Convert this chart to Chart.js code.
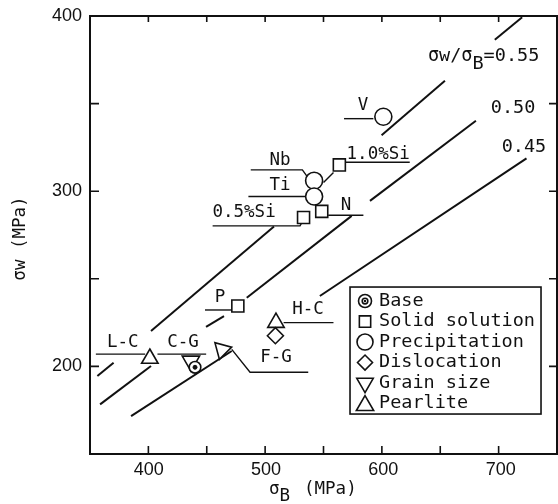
<!DOCTYPE html>
<html><head><meta charset="utf-8">
<script src="https://cdn.jsdelivr.net/npm/chart.js@4.4.1/dist/chart.umd.min.js"></script>
<style>html,body{margin:0;padding:0;background:#fff}</style>
</head><body>
<div style="width:558px;height:504px"><canvas id="c" width="558" height="504"></canvas></div>
<script>
// ---- axis ranges & tick labels ----
const xRange = [350, 748];
const yRange = [150, 400];
const xTickLabels = [400, 500, 600, 700];
const yTickLabels = [200, 300, 400];

// ---- data points (σB MPa, σw MPa) ----
const basePts = [{x: 439.5, y: 199.5}];
const solidPts = [{x: 476, y: 234.5}, {x: 532, y: 285}, {x: 547.5, y: 288.5}, {x: 562.5, y: 315}];
const precipPts = [{x: 600, y: 342.5}, {x: 541, y: 306}, {x: 541, y: 297}];
const dislocPts = [{x: 508, y: 217.5}];
const grainPts = [{x: 436, y: 203}, {x: 462.5, y: 209.5}];
const grainRot = [180, 195];
const pearlitePts = [{x: 401, y: 204.5}, {x: 508.5, y: 225}];

// ---- σw/σB ratio lines (drawn as broken segments) ----
const line055 = [[[356.3, 194.5], [370.1, 202.1]], [[402, 220.2], [506.8, 279.8]], [[598.5, 332], [652.5, 363]], [[695, 386.5], [718.3, 399.3]]];
const line050 = [[[358.6, 178.3], [402, 200.2]], [[448.9, 222.5], [464.2, 228.7]], [[483.6, 239.2], [573, 285.9]], [[588.6, 294.5], [678.9, 340.2]]];
const line045 = [[[385, 171.6], [470.8, 208.8]], [[545.9, 240.2], [722, 318.7]]];
const ratioTexts = ['0.55', '0.50', '0.45'];
const ratioTextPos = [[638, 376.9], [710.6, 347.4], [719.8, 325.4]];

// ---- leader lines for point labels ----
const leaders = [
  [[566.5, 341.4], [591.5, 341.4]],
  [[487, 312.2], [531, 312.2], [535, 308.5]],
  [[485, 297], [533.5, 297]],
  [[454.5, 280.2], [529, 280.2], [530.5, 282]],
  [[567, 316.5], [622.5, 316.5]],
  [[557.5, 310.7], [549, 305]],
  [[553, 286.3], [583, 286.3]],
  [[448, 232.2], [471, 232.2]],
  [[355, 207], [397, 207]],
  [[407.5, 207], [449, 207]],
  [[515, 225], [557.5, 225]],
  [[470.8, 209.7], [486.4, 196.7], [536, 196.7]]
];
const pointLabels = ['V', 'Nb', 'Ti', '0.5%Si', '1.0%Si', 'N', 'P', 'L-C', 'C-G', 'H-C', 'F-G'];
const pointLabelPos = [[582.6, 348.7], [512, 317.8], [512, 303.5], [481.3, 288], [595.6, 321.1], [568.1, 292], [460.8, 239.3], [377.9, 213.7], [429.3, 213.7], [535.8, 232.6], [508.6, 205.1]];

// ---- legend ----
const legendLabels = ['Base', 'Solid solution', 'Precipitation', 'Dislocation', 'Grain size', 'Pearlite'];

const INK = '#111';
const MONO = '"DejaVu Sans Mono", monospace';
const SANS = '"Liberation Sans", Arial, sans-serif';

const datasets = [];
function addSegs(segs, width) {
  segs.forEach(s => datasets.push({
    data: s.map(p => ({x: p[0], y: p[1]})), showLine: true, borderColor: INK,
    borderWidth: width, pointRadius: 0, tension: 0, order: 10
  }));
}
addSegs(line055, 2);
addSegs(line050, 2);
addSegs(line045, 2);
addSegs(leaders, 1.4);

function pts(data, style, r, extra) {
  return Object.assign({
    data, showLine: false, pointStyle: style, pointRadius: r,
    pointBackgroundColor: '#fff', pointBorderColor: INK, pointBorderWidth: 1.6, order: 2
  }, extra || {});
}
datasets.push(pts(solidPts, 'rect', 8.5));
datasets.push(pts(precipPts, 'circle', 8.5));
datasets.push(pts(dislocPts, 'rectRot', 8));
datasets.push(pts(grainPts, 'triangle', 10, {pointRotation: grainRot}));
datasets.push(pts(pearlitePts, 'triangle', 9.5));
datasets.push(pts(basePts, 'circle', 5.8, {order: 1}));
datasets.push(pts(basePts, 'circle', 2, {order: 0, pointBackgroundColor: INK, pointBorderWidth: 1}));

function drawSubText(ctx, parts, x, y, size) {
  let cx = x;
  parts.forEach(([t, sub]) => {
    ctx.font = size + 'px ' + MONO;
    ctx.fillText(t, cx, y + (sub ? size * 0.4 : 0));
    cx += ctx.measureText(t).width;
  });
}
function tickLabel(list, v) {
  const hit = list.find(t => Math.abs(t - v) < 0.01);
  return hit === undefined ? '' : String(hit);
}

const deco = {
  id: 'deco',
  afterDatasetsDraw(chart) {
    const ctx = chart.ctx, ca = chart.chartArea;
    const xs = chart.scales.x, ys = chart.scales.y;
    ctx.save();
    ctx.strokeStyle = INK; ctx.fillStyle = INK;
    ctx.lineWidth = 2;
    ctx.strokeRect(ca.left, ca.top, ca.right - ca.left, ca.bottom - ca.top);
    ctx.lineWidth = 1.6;
    const TL = 8;
    xs.ticks.forEach(t => {
      const px = xs.getPixelForValue(t.value);
      if (px <= ca.left + 1 || px >= ca.right - 1) return;
      ctx.beginPath();
      ctx.moveTo(px, ca.bottom); ctx.lineTo(px, ca.bottom - TL);
      ctx.moveTo(px, ca.top); ctx.lineTo(px, ca.top + TL - 2);
      ctx.stroke();
    });
    ys.ticks.forEach(t => {
      const py = ys.getPixelForValue(t.value);
      if (py <= ca.top + 1 || py >= ca.bottom - 1) return;
      ctx.beginPath();
      ctx.moveTo(ca.left, py); ctx.lineTo(ca.left + TL + 1, py);
      ctx.moveTo(ca.right, py); ctx.lineTo(ca.right - TL, py);
      ctx.stroke();
    });
    // x tick labels (placed through the x scale)
    ctx.textAlign = 'center'; ctx.textBaseline = 'middle';
    ctx.font = '18px ' + SANS;
    xTickLabels.forEach(v => ctx.fillText(String(v), xs.getPixelForValue(v), ca.bottom + 16.5));
    // point labels
    ctx.font = '17.5px ' + MONO;
    pointLabels.forEach((t, i) => {
      ctx.fillText(t, xs.getPixelForValue(pointLabelPos[i][0]), ys.getPixelForValue(pointLabelPos[i][1]));
    });
    ctx.font = '18.5px ' + MONO;
    ctx.textAlign = 'left';
    const r0x = xs.getPixelForValue(ratioTextPos[0][0]), r0y = ys.getPixelForValue(ratioTextPos[0][1]);
    drawSubText(ctx, [['σw/σ', false], ['B', true], ['=' + ratioTexts[0], false]], r0x, r0y, 18.5);
    ctx.textAlign = 'center';
    ctx.font = '18.5px ' + MONO;
    for (let i = 1; i < 3; i++) {
      ctx.fillText(ratioTexts[i], xs.getPixelForValue(ratioTextPos[i][0]), ys.getPixelForValue(ratioTextPos[i][1]));
    }
    ctx.textAlign = 'left';
    drawSubText(ctx, [['σ', false], ['B', true]], 269, 489, 17.5);
    ctx.font = '17.5px ' + MONO;
    ctx.fillText('(MPa)', 304, 489);
    ctx.save();
    ctx.translate(20, 238.5); ctx.rotate(-Math.PI / 2);
    ctx.textAlign = 'center';
    ctx.font = '17.5px ' + MONO;
    ctx.fillText('σw (MPa)', 0, 0);
    ctx.restore();
    const bx = xs.getPixelForValue(571.6), by = ys.getPixelForValue(245.3), bw = 191, bh = 127;
    ctx.lineWidth = 1.6;
    ctx.strokeRect(bx, by, bw, bh);
    const styles = [
      {s: 'circle', r: 6.5}, {s: 'rect', r: 8}, {s: 'circle', r: 8}, {s: 'rectRot', r: 7.5},
      {s: 'triangle', r: 9.5, rot: 180}, {s: 'triangle', r: 10}
    ];
    ctx.textAlign = 'left';
    legendLabels.forEach((t, i) => {
      const cy = by + 14 + i * 20.5;
      const mx = bx + 15;
      const st = styles[i];
      ctx.fillStyle = '#fff'; ctx.strokeStyle = INK; ctx.lineWidth = 1.6;
      Chart.helpers.drawPoint(ctx, {pointStyle: st.s, radius: st.r, rotation: st.rot || 0, borderWidth: 1.6},
        mx, cy + (st.s === 'triangle' && !st.rot ? 2 : 0));
      if (i === 0) {
        ctx.beginPath(); ctx.arc(mx, cy, 2.8, 0, Math.PI * 2); ctx.stroke();
        ctx.fillStyle = INK; ctx.beginPath(); ctx.arc(mx, cy, 1.2, 0, Math.PI * 2); ctx.fill();
      }
      ctx.fillStyle = INK;
      ctx.font = '18.5px ' + MONO;
      ctx.fillText(t, bx + 29, cy);
    });
    ctx.restore();
  }
};

new Chart(document.getElementById('c'), {
  type: 'scatter',
  data: {datasets},
  options: {
    responsive: false, animation: false,
    layout: {autoPadding: false, padding: {top: 16, right: 1, left: 0, bottom: 0}},
    plugins: {legend: {display: false}, tooltip: {enabled: false}},
    scales: {
      x: {
        type: 'linear', min: xRange[0], max: xRange[1],
        grid: {display: false, drawTicks: false}, border: {display: false},
        ticks: {stepSize: 50, autoSkip: false, maxRotation: 0, minRotation: 0, padding: 6, color: INK,
          font: {family: SANS, size: 18},
          callback: () => ''},
        afterFit: s => { s.height = 50; s.paddingLeft = 0; s.paddingRight = 0; }
      },
      y: {
        type: 'linear', min: yRange[0], max: yRange[1],
        grid: {display: false, drawTicks: false}, border: {display: false},
        ticks: {stepSize: 50, autoSkip: false, padding: 8, color: INK,
          font: {family: SANS, size: 18},
          callback: v => tickLabel(yTickLabels, v)},
        afterFit: s => { s.width = 90; s.paddingTop = 0; s.paddingBottom = 0; }
      }
    }
  },
  plugins: [deco]
});
</script>
</body></html>
